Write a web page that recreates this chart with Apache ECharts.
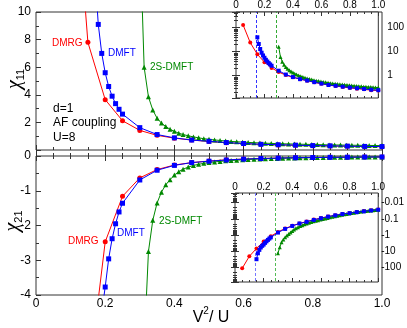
<!DOCTYPE html>
<html><head><meta charset="utf-8">
<script src="https://cdn.jsdelivr.net/npm/echarts@6/dist/echarts.min.js"></script>
<style>html,body{margin:0;padding:0;background:#fff}#c{width:407px;height:328px}</style>
</head><body><div id="c"></div>
<script>
// ---- data ----
const dmrgX = [0.05,0.1,0.15,0.2,0.25,0.3,0.35,0.4,0.45,0.5,0.55,0.6,0.65,0.7,0.75,0.8,0.85,0.9,0.95,1.0];
const dmrgChi11 = [130,24,7.8,3.65,2.12,1.42,1.06,0.86,0.72,0.62,0.53,0.46,0.41,0.37,0.34,0.31,0.29,0.27,0.25,0.24];
const dmrgChi21 = [-110,-20,-6.6,-2.47,-1.16,-0.63,-0.39,-0.26,-0.19,-0.145,-0.11,-0.088,-0.071,-0.059,-0.05,-0.043,-0.037,-0.033,-0.029,-0.026];

const dmftX = [0.15,0.16,0.17,0.18,0.19,0.2,0.21,0.22,0.23,0.24,0.25,0.3,0.35,0.4,0.45,0.5,0.55,0.6,0.65,0.7,0.75,0.8,0.85,0.9,0.95,1.0];
const dmftChi11 = [40,21,13,9.1,7.0,5.6,4.6,3.9,3.36,2.95,2.6,1.62,1.12,0.88,0.72,0.63,0.54,0.47,0.41,0.38,0.35,0.32,0.3,0.28,0.26,0.25];
const dmftChi21 = [-30,-13,-8,-5.7,-4.5,-3.77,-2.96,-2.38,-1.95,-1.61,-1.36,-0.69,-0.41,-0.27,-0.19,-0.15,-0.115,-0.09,-0.072,-0.06,-0.05,-0.044,-0.038,-0.034,-0.03,-0.027];

const s2X = [0.3,0.3125,0.325,0.3375,0.35,0.3625,0.375,0.3875,0.4,0.4125,0.425,0.44,0.455,0.47,0.485,0.5,0.516,0.532,0.548,0.564,0.58,0.597,0.613,0.63,0.647,0.663,0.68,0.697,0.713,0.73,0.747,0.763,0.78,0.797,0.813,0.83,0.847,0.863,0.88,0.897,0.913,0.93,0.947,0.963,0.98,1.0];
const s2Chi11 = [16,6.0,3.85,2.9,2.3,1.95,1.7,1.5,1.35,1.22,1.12,1.03,0.95,0.88,0.82,0.77,0.73,0.69,0.65,0.62,0.6,0.57,0.55,0.53,0.51,0.49,0.48,0.46,0.45,0.44,0.43,0.42,0.41,0.4,0.39,0.38,0.37,0.365,0.36,0.35,0.345,0.34,0.335,0.33,0.325,0.32];
const s2Chi21 = [-13,-5.5,-2.75,-1.85,-1.35,-1.04,-0.83,-0.68,-0.55,-0.45,-0.38,-0.32,-0.27,-0.24,-0.21,-0.19,-0.17,-0.155,-0.14,-0.13,-0.12,-0.11,-0.1,-0.093,-0.086,-0.08,-0.074,-0.069,-0.064,-0.06,-0.056,-0.052,-0.049,-0.046,-0.043,-0.041,-0.039,-0.037,-0.035,-0.034,-0.032,-0.031,-0.03,-0.029,-0.028,-0.027];

const dmftCritical = 0.143;
const s2Critical = 0.285;

const insetTopTickValues = [1,10,100];
const insetTopTickLabels = ['1','10','100'];
const insetBotTickValues = [0.01,0.1,1,10,100];
const insetBotTickLabels = ['-0.01','-0.1','-1','-10','-100'];

// ---- chart ----
const RED='#ff0000', BLUE='#0000ff', GREEN='#008800';
const FONT='Liberation Sans, Arial, Helvetica, sans-serif';
const pairs=(xs,ys,f)=>xs.map((x,i)=>[x, f?f(ys[i]):ys[i]]);
const xFmt=v=>v===0?'0':v.toFixed(1);
const logFmt=(vals,labs)=>v=>{for(let i=0;i<vals.length;i++){if(Math.abs(v-vals[i])/vals[i]<1e-6)return labs[i];}return '';};

function xAx(grid,pos,labels,opts){
  return Object.assign({type:'value',gridIndex:grid,position:pos,min:0,max:1,interval:0.2,
    axisLine:{show:false},splitLine:{show:false},
    axisTick:{show:true,inside:true,length:5,lineStyle:{color:'#333'}},
    minorTick:{show:true,splitNumber:4,length:3,lineStyle:{color:'#333'}},
    axisLabel:{show:labels,formatter:xFmt,color:'#000',fontFamily:FONT,fontSize:12,margin:3}},opts||{});
}
function logAx(grid,pos,mn,mx,inv,labelOpts,z){
  return {type:'log',gridIndex:grid,position:pos,min:mn,max:mx,inverse:inv,z:z,
    axisLine:{show:false},splitLine:{show:false},
    axisTick:{show:true,inside:true,length:4,lineStyle:{color:'#333'}},
    minorTick:{show:true,splitNumber:9,length:2,lineStyle:{color:'#333'}},
    axisLabel:labelOpts};
}
function ln(name,data,sym,color,xi,yi,size,z,extra){
  return Object.assign({type:'line',name:name,data:data,xAxisIndex:xi,yAxisIndex:yi,symbol:sym,symbolSize:size,
    showSymbol:true,clip:true,z:z,animation:false,
    lineStyle:{color:color,width:1},itemStyle:{color:color}},extra||{});
}
function vline(x,color){
  return {silent:true,symbol:'none',label:{show:false},animation:false,
    lineStyle:{type:[3,2],color:color,width:1},data:[{xAxis:x}]};
}

const chart=echarts.init(document.getElementById('c'),null,{renderer:'canvas'});
const option={
  animation:false,
  backgroundColor:'#fff',
  grid:[
    {left:36,top:12,width:346,height:138,show:true,borderColor:'#333',borderWidth:1,backgroundColor:'transparent'},
    {left:36,top:156,width:346,height:139,show:true,borderColor:'#333',borderWidth:1,backgroundColor:'transparent'},
    {left:236,top:12,width:146,height:86,show:true,borderColor:'#333',borderWidth:1,backgroundColor:'#fff',z:5},
    {left:235,top:193,width:147,height:89,show:true,borderColor:'#333',borderWidth:1,backgroundColor:'#fff',z:5}
  ],
  xAxis:[
    xAx(0,'bottom',false),
    xAx(1,'bottom',true,{axisTick:{show:true,inside:true,length:6,lineStyle:{color:'#333'}}}),
    xAx(1,'top',false),
    xAx(2,'top',true,{z:6,axisTick:{show:true,inside:true,length:4,lineStyle:{color:'#333'}},minorTick:{show:true,splitNumber:4,length:2,lineStyle:{color:'#333'}},axisLabel:{show:true,formatter:xFmt,color:'#000',fontFamily:FONT,fontSize:10,margin:2}}),
    xAx(2,'bottom',false,{z:6,axisTick:{show:true,inside:true,length:4,lineStyle:{color:'#333'}},minorTick:{show:true,splitNumber:4,length:2,lineStyle:{color:'#333'}}}),
    xAx(3,'top',true,{z:6,axisTick:{show:true,inside:true,length:4,lineStyle:{color:'#333'}},minorTick:{show:true,splitNumber:4,length:2,lineStyle:{color:'#333'}},axisLabel:{show:true,formatter:xFmt,color:'#000',fontFamily:FONT,fontSize:10,margin:1}}),
    xAx(3,'bottom',false,{z:6,axisTick:{show:true,inside:true,length:4,lineStyle:{color:'#333'}},minorTick:{show:true,splitNumber:4,length:2,lineStyle:{color:'#333'}}})
  ],
  yAxis:[
    {type:'value',gridIndex:0,position:'left',min:0,max:10,interval:2,axisLine:{show:false},splitLine:{show:false},
      axisTick:{show:true,inside:true,length:5,lineStyle:{color:'#333'}},minorTick:{show:true,splitNumber:2,length:3,lineStyle:{color:'#333'}},
      axisLabel:{formatter:v=>v===0?'':String(v),color:'#000',fontFamily:FONT,fontSize:12,margin:5}},
    {type:'value',gridIndex:1,position:'left',min:-4,max:0,interval:1,axisLine:{show:false},splitLine:{show:false},
      axisTick:{show:true,inside:true,length:5,lineStyle:{color:'#333'}},minorTick:{show:true,splitNumber:2,length:3,lineStyle:{color:'#333'}},
      axisLabel:{formatter:v=>String(v),color:'#000',fontFamily:FONT,fontSize:12,margin:5}},
    logAx(2,'right',0.118,452,false,{show:true,formatter:logFmt(insetTopTickValues,insetTopTickLabels),color:'#000',fontFamily:FONT,fontSize:10,margin:9},6),
    logAx(2,'left',0.118,452,false,{show:false},6),
    logAx(3,'right',0.00253,759,true,{show:true,formatter:logFmt(insetBotTickValues,insetBotTickLabels),color:'#000',fontFamily:FONT,fontSize:10,margin:3},6),
    logAx(3,'left',0.00253,759,true,{show:false},6)
  ],
  series:[
    ln('DMRG',pairs(dmrgX,dmrgChi11),'circle',RED,0,0,5,2),
    ln('DMFT',pairs(dmftX,dmftChi11),'rect',BLUE,0,0,5,3),
    ln('2S-DMFT',pairs(s2X,s2Chi11),'triangle',GREEN,0,0,5,2),
    ln('DMRG',pairs(dmrgX,dmrgChi21),'circle',RED,1,1,5,2),
    ln('DMFT',pairs(dmftX,dmftChi21),'rect',BLUE,1,1,5,3),
    ln('2S-DMFT',pairs(s2X,s2Chi21),'triangle',GREEN,1,1,5,2),
    ln('DMRG',pairs(dmrgX,dmrgChi11),'circle',RED,3,2,4,7),
    ln('2S-DMFT',pairs(s2X,s2Chi11),'triangle',GREEN,3,2,4,7,{markLine:vline(s2Critical,'#33aa33')}),
    ln('DMFT',pairs(dmftX,dmftChi11),'rect',BLUE,3,2,4,8,{markLine:vline(dmftCritical,'#3333ff')}),
    ln('DMRG',pairs(dmrgX,dmrgChi21,Math.abs),'circle',RED,5,4,4,7),
    ln('2S-DMFT',pairs(s2X,s2Chi21,Math.abs),'triangle',GREEN,5,4,4,7,{markLine:vline(s2Critical,'#55bb55')}),
    ln('DMFT',pairs(dmftX,dmftChi21,Math.abs),'rect',BLUE,5,4,4,8,{markLine:vline(dmftCritical,'#7777ff')})
  ],
  graphic:[
    {type:'text',left:52,top:38,style:{text:'DMRG',fill:RED,font:'10px '+FONT}},
    {type:'text',left:108,top:48,style:{text:'DMFT',fill:BLUE,font:'10px '+FONT}},
    {type:'text',left:150,top:62,style:{text:'2S-DMFT',fill:GREEN,font:'10px '+FONT}},
    {type:'text',left:53,top:101,style:{text:'d=1\nAF coupling\nU=8',fill:'#000',font:'12px '+FONT,lineHeight:14.5}},
    {type:'text',left:68,top:236,style:{text:'DMRG',fill:RED,font:'10px '+FONT}},
    {type:'text',left:117,top:228,style:{text:'DMFT',fill:BLUE,font:'10px '+FONT}},
    {type:'text',left:159,top:216,style:{text:'2S-DMFT',fill:GREEN,font:'10px '+FONT}},
    {type:'text',x:15,y:79,rotation:Math.PI/2,style:{text:'{c|χ}{s|11}',align:'center',verticalAlign:'middle',
      rich:{c:{font:'italic 20px Liberation Serif, DejaVu Serif, serif',fill:'#000',lineHeight:22,verticalAlign:'middle'},
            s:{font:'11px '+FONT,fill:'#000',lineHeight:22,verticalAlign:'bottom'}}}},
    {type:'text',x:13,y:221,rotation:Math.PI/2,style:{text:'{c|χ}{s|21}',align:'center',verticalAlign:'middle',
      rich:{c:{font:'italic 20px Liberation Serif, DejaVu Serif, serif',fill:'#000',lineHeight:22,verticalAlign:'middle'},
            s:{font:'11px '+FONT,fill:'#000',lineHeight:22,verticalAlign:'bottom'}}}},
    {type:'text',x:211,y:316,style:{text:'{a|V}{s|2}{a|/ U}',align:'center',verticalAlign:'middle',
      rich:{a:{font:'16px '+FONT,fill:'#000',lineHeight:20,verticalAlign:'bottom'},
            s:{font:'10px '+FONT,fill:'#000',lineHeight:20,verticalAlign:'top'}}}}
  ]
};
chart.setOption(option);
</script></body></html>
